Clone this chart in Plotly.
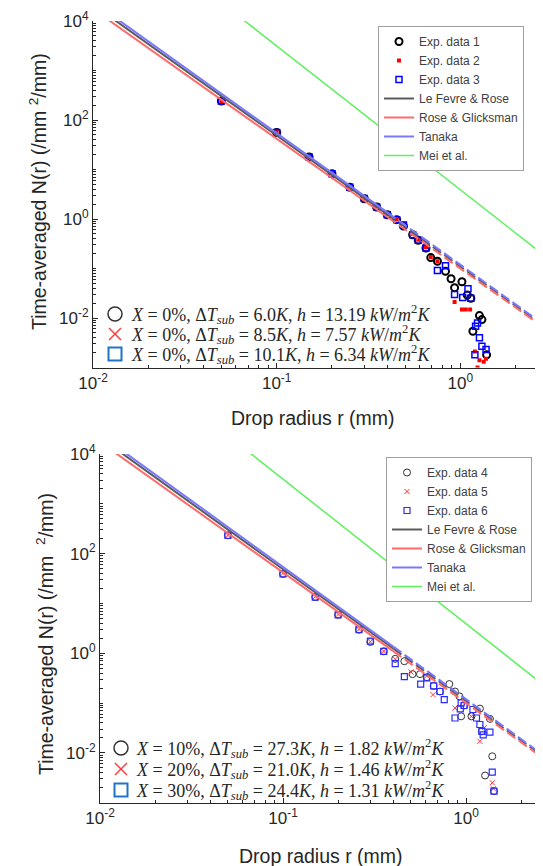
import plotly.graph_objects as go

W, H = 543, 866

# ---------------- data ----------------
# model curves (values read at r = 0.01, 0.4, 3 mm)
r_model = [0.01, 0.4, 3.0]
lefevre = [21400, 1.24, 0.0060]
rose = [17500, 1.10, 0.0056]
tanaka = [24500, 1.36, 0.0064]
r_mei = [0.06, 3.0]
mei = [13800, 0.16]

# top panel experimental data
r1 = [0.05, 0.1, 0.15, 0.2, 0.25, 0.3, 0.35, 0.4, 0.45, 0.49, 0.55, 0.59, 0.65, 0.69, 0.75,
      0.83, 0.89, 0.93, 1.02, 1.09, 1.14, 1.17, 1.27, 1.31, 1.39]
n1 = [242, 56, 17.9, 8.2, 4.37, 2.57, 1.75, 1.22, 0.97, 0.72, 0.48, 0.37, 0.26, 0.166, 0.14,
      0.088, 0.062, 0.041, 0.054, 0.029, 0.025, 0.0054, 0.0112, 0.0093, 0.0018]
r2 = [0.05, 0.1, 0.15, 0.2, 0.25, 0.3, 0.35, 0.4, 0.45, 0.49, 0.55, 0.59, 0.65, 0.69, 0.75,
      0.93, 1.02, 1.07, 1.13, 1.2, 1.24, 1.27, 1.34, 1.38]
n2 = [242, 57, 18.2, 8.3, 4.5, 2.6, 1.8, 1.25, 0.98, 0.8, 0.5, 0.38, 0.27, 0.17, 0.14,
      0.021, 0.0148, 0.0148, 0.0148, 0.0021, 0.0010, 0.0014, 0.0013, 0.0015]
r3 = [0.05, 0.1, 0.15, 0.2, 0.25, 0.3, 0.35, 0.4, 0.45, 0.49, 0.55, 0.59, 0.65, 0.75, 0.83,
      0.93, 1.03, 1.1, 1.14, 1.2, 1.21, 1.24, 1.27, 1.31, 1.38]
n3 = [242, 56, 17.9, 8.2, 4.4, 2.6, 1.75, 1.22, 0.97, 0.76, 0.48, 0.37, 0.26, 0.091, 0.114,
      0.030, 0.026, 0.039, 0.025, 0.0018, 0.0068, 0.0079, 0.0040, 0.0027, 0.0023]

# bottom panel experimental data
r4 = [0.05, 0.1, 0.15, 0.2, 0.26, 0.3, 0.355, 0.41, 0.46, 0.51, 0.56, 0.61, 0.665, 0.72, 0.81,
      0.87, 0.92, 0.94, 0.975, 1.07, 1.19, 1.22, 1.27, 1.35, 1.39, 1.42]
n4 = [233, 39, 13.4, 5.9, 2.97, 1.68, 1.09, 0.77, 0.69, 0.38, 0.38, 0.33, 0.22, 0.17, 0.24,
      0.17, 0.136, 0.054, 0.089, 0.054, 0.077, 0.027, 0.0035, 0.048, 0.0085, 0.0017]
r5 = [0.05, 0.1, 0.15, 0.2, 0.26, 0.3, 0.355, 0.41, 0.5, 0.61, 0.66, 0.87, 1.0, 1.07, 1.19,
      1.26, 1.39, 1.41]
n5 = [233, 40, 13.6, 6.0, 3.0, 1.7, 1.1, 0.75, 0.42, 0.35, 0.147, 0.079, 0.1, 0.054, 0.017,
      0.032, 0.0025, 0.0019]
r6 = [0.05, 0.1, 0.15, 0.2, 0.26, 0.3, 0.355, 0.41, 0.46, 0.565, 0.61, 0.665, 0.72, 0.76, 0.87,
      0.93, 0.94, 0.975, 1.09, 1.14, 1.19, 1.22, 1.24, 1.35, 1.39, 1.42]
n6 = [233, 39, 13.4, 5.9, 2.97, 1.75, 1.09, 0.62, 0.34, 0.24, 0.32, 0.22, 0.17, 0.117, 0.05,
      0.076, 0.1, 0.089, 0.074, 0.05, 0.037, 0.027, 0.023, 0.026, 0.0041, 0.0017]

# tick labels
x_tickvals = [0.01, 0.1, 1]
x_ticktext = ["10<sup>-2</sup>", "10<sup>-1</sup>", "10<sup>0</sup>"]
y_tickvals = [0.01, 1, 100, 10000]
y_ticktext = ["10<sup>-2</sup>", "10<sup>0</sup>", "10<sup>2</sup>", "10<sup>4</sup>"]

top_labels = [
    "<i>X</i> = 0%, Δ<i>T</i><sub><i>sub</i></sub> = 6.0<i>K</i>, <i>h</i> = 13.19 <i>kW</i>/<i>m</i><sup>2</sup><i>K</i>",
    "<i>X</i> = 0%, Δ<i>T</i><sub><i>sub</i></sub> = 8.5<i>K</i>, <i>h</i> = 7.57 <i>kW</i>/<i>m</i><sup>2</sup><i>K</i>",
    "<i>X</i> = 0%, Δ<i>T</i><sub><i>sub</i></sub> = 10.1<i>K</i>, <i>h</i> = 6.34 <i>kW</i>/<i>m</i><sup>2</sup><i>K</i>",
]
bot_labels = [
    "<i>X</i> = 10%, Δ<i>T</i><sub><i>sub</i></sub> = 27.3<i>K</i>, <i>h</i> = 1.82 <i>kW</i>/<i>m</i><sup>2</sup><i>K</i>",
    "<i>X</i> = 20%, Δ<i>T</i><sub><i>sub</i></sub> = 21.0<i>K</i>, <i>h</i> = 1.46 <i>kW</i>/<i>m</i><sup>2</sup><i>K</i>",
    "<i>X</i> = 30%, Δ<i>T</i><sub><i>sub</i></sub> = 24.4<i>K</i>, <i>h</i> = 1.31 <i>kW</i>/<i>m</i><sup>2</sup><i>K</i>",
]

# ---------------- helpers ----------------
def px(x):
    return x / W

def py(y):
    return 1 - y / H

fig = go.Figure()

C_GRAY, C_RED, C_BLUE, C_GREEN = "#5a5a5a", "#ff6a6a", "#7878ff", "#5ef05e"

def add_models(xa, ya, leg):
    models = [("Le Fevre & Rose", lefevre, C_GRAY),
              ("Rose & Glicksman", rose, C_RED),
              ("Tanaka", tanaka, C_BLUE)]
    for name, vals, col in models:
        fig.add_trace(go.Scatter(x=r_model[:2], y=vals[:2], mode="lines", name=name,
                                 line=dict(color=col, width=2), xaxis=xa, yaxis=ya,
                                 legend=leg))
    for name, vals, col in models:
        fig.add_trace(go.Scatter(x=r_model[1:], y=vals[1:], mode="lines", name=name,
                                 line=dict(color=col, width=2, dash="10px,4px"),
                                 xaxis=xa, yaxis=ya, showlegend=False, legend=leg))
    fig.add_trace(go.Scatter(x=r_mei, y=mei, mode="lines", name="Mei et al.",
                             line=dict(color=C_GREEN, width=1.5), xaxis=xa, yaxis=ya,
                             legend=leg))

# top panel experimental traces
fig.add_trace(go.Scatter(x=r1, y=n1, mode="markers", name="Exp. data 1",
                         marker=dict(symbol="circle-open", size=7, color="#000000",
                                     line=dict(width=2, color="#000000")),
                         xaxis="x", yaxis="y", legend="legend"))
fig.add_trace(go.Scatter(x=r2, y=n2, mode="markers", name="Exp. data 2",
                         marker=dict(symbol="square", size=4, color="#ff0000"),
                         xaxis="x", yaxis="y", legend="legend"))
fig.add_trace(go.Scatter(x=r3, y=n3, mode="markers", name="Exp. data 3",
                         marker=dict(symbol="square-open", size=6, color="#0000ff",
                                     line=dict(width=1.5, color="#0000ff")),
                         xaxis="x", yaxis="y", legend="legend"))
add_models("x", "y", "legend")

# bottom panel experimental traces
fig.add_trace(go.Scatter(x=r4, y=n4, mode="markers", name="Exp. data 4",
                         marker=dict(symbol="circle-open", size=7, color="#333333",
                                     line=dict(width=1, color="#333333")),
                         xaxis="x2", yaxis="y2", legend="legend2"))
fig.add_trace(go.Scatter(x=r5, y=n5, mode="markers", name="Exp. data 5",
                         marker=dict(symbol="x-thin-open", size=5, color="#ff3030",
                                     line=dict(width=1, color="#ff3030")),
                         xaxis="x2", yaxis="y2", legend="legend2"))
fig.add_trace(go.Scatter(x=r6, y=n6, mode="markers", name="Exp. data 6",
                         marker=dict(symbol="square-open", size=6, color="#2a2aff",
                                     line=dict(width=1.2, color="#2a2aff")),
                         xaxis="x2", yaxis="y2", legend="legend2"))
add_models("x2", "y2", "legend2")

AX_COL = "#262626"
TICKFONT = dict(family="Liberation Sans, Arial", size=17, color=AX_COL)

minor_x = [m * 10.0 ** e for e in range(-2, 1) for m in range(2, 10)]
minor_y = [m * 10.0 ** e for e in range(-3, 4) for m in range(1, 10) if not (m == 1 and e % 2 == 0)]

def xax(domain, rng, anchor):
    return dict(type="log", domain=domain, range=rng, anchor=anchor, automargin=False,
                tickmode="array", tickvals=x_tickvals, ticktext=x_ticktext,
                showline=True, linecolor=AX_COL, linewidth=1,
                ticks="inside", ticklen=5, tickcolor=AX_COL, showgrid=False, zeroline=False,
                tickfont=TICKFONT,
                minor=dict(ticks="inside", ticklen=3, tickcolor=AX_COL, tickmode="array",
                           tickvals=minor_x, showgrid=False))

def yax(domain, anchor):
    return dict(type="log", domain=domain, range=[-3, 4], anchor=anchor, automargin=False,
                tickmode="array", tickvals=y_tickvals, ticktext=y_ticktext,
                showline=True, linecolor=AX_COL, linewidth=1,
                ticks="inside", ticklen=5, tickcolor=AX_COL, showgrid=False, zeroline=False,
                tickfont=TICKFONT,
                minor=dict(ticks="inside", ticklen=3, tickcolor=AX_COL, tickmode="array",
                           tickvals=minor_y, showgrid=False))

LEGFONT = dict(family="Liberation Sans, Arial", size=12, color="#404040")

annotations = []
shapes = []
TXTFONT = dict(family="Liberation Serif, DejaVu Serif", size=18, color="#262626")

def add_text_legend(rows_y, mx, tx, labels):
    for yy, lab in zip(rows_y, labels):
        annotations.append(dict(x=px(tx), y=py(yy), xref="paper", yref="paper", text=lab,
                                showarrow=False, xanchor="left", yanchor="middle", font=TXTFONT))
    y0 = rows_y[0]
    shapes.append(dict(type="circle", xref="paper", yref="paper",
                       x0=px(mx - 7), x1=px(mx + 7), y0=py(y0 + 7), y1=py(y0 - 7),
                       line=dict(color="#333333", width=1.5)))
    y1 = rows_y[1]
    for a, b in [(-6, 6), (6, -6)]:
        shapes.append(dict(type="line", xref="paper", yref="paper",
                           x0=px(mx - 6), x1=px(mx + 6), y0=py(y1 + a), y1=py(y1 + b),
                           line=dict(color="#ff3b3b", width=1.5)))
    y2 = rows_y[2]
    shapes.append(dict(type="rect", xref="paper", yref="paper",
                       x0=px(mx - 6.5), x1=px(mx + 6.5), y0=py(y2 + 6.5), y1=py(y2 - 6.5),
                       line=dict(color="#1f74c8", width=2)))

add_text_legend([306, 326, 346], 107, 121, top_labels)
add_text_legend([740, 761, 782], 113, 126, bot_labels)

TITLEFONT = dict(family="Liberation Sans, Arial", size=19.5, color=AX_COL)
ytitle = "Time-averaged N(r) (/mm <sup>2</sup>/mm)"
ytitle2 = "Time-averaged N(r) (/mm  <sup>2</sup>/mm)"
annotations += [
    dict(x=px(305), y=py(410), xref="paper", yref="paper", text="Drop radius r (mm)",
         showarrow=False, font=TITLEFONT, xanchor="center", yanchor="middle"),
    dict(x=px(313), y=py(848), xref="paper", yref="paper", text="Drop radius r (mm)",
         showarrow=False, font=TITLEFONT, xanchor="center", yanchor="middle"),
    dict(x=px(30), y=py(184), xref="paper", yref="paper", text=ytitle, textangle=-90,
         showarrow=False, font=TITLEFONT, xanchor="center", yanchor="middle"),
    dict(x=px(37), y=py(626), xref="paper", yref="paper", text=ytitle2, textangle=-90,
         showarrow=False, font=TITLEFONT, xanchor="center", yanchor="middle"),
]

fig.update_layout(
    width=W, height=H, margin=dict(l=0, r=0, t=0, b=0),
    paper_bgcolor="white", plot_bgcolor="white",
    xaxis=xax([px(85), px(540)], [-2, 0.4771], "y"),
    yaxis=yax([py(359.5), py(13)], "x"),
    xaxis2=xax([px(92), 1.0], [-2, 0.464], "y2"),
    yaxis2=yax([py(794.6), py(446)], "x2"),
    legend=dict(x=px(370), y=py(18), xanchor="left", yanchor="top", font=LEGFONT,
                bgcolor="white", bordercolor="#a0a0a0", borderwidth=1, itemwidth=30,
                tracegroupgap=0),
    legend2=dict(x=px(378), y=py(449), xanchor="left", yanchor="top", font=LEGFONT,
                 bgcolor="white", bordercolor="#a0a0a0", borderwidth=1, itemwidth=30,
                 tracegroupgap=0),
    annotations=annotations, shapes=shapes,
)

fig.write_html("out.html")
